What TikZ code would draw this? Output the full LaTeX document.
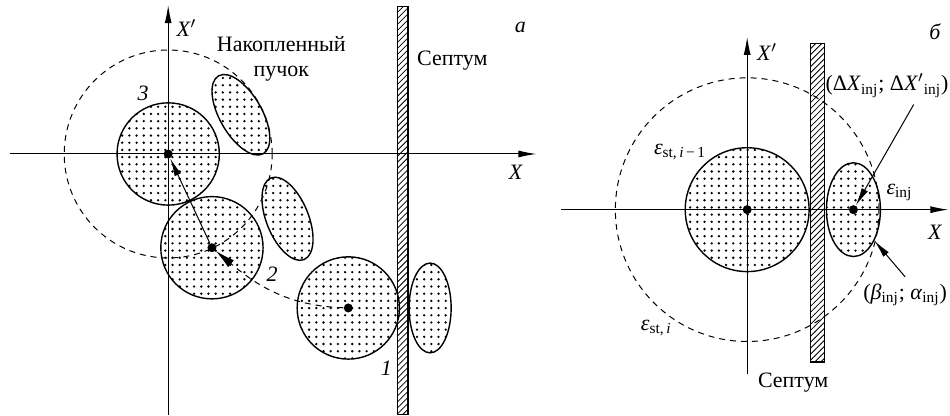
\documentclass[tikz,border=0pt]{standalone}
\usepackage{fontspec}
\setmainfont{Liberation Serif}
\usetikzlibrary{patterns,shapes.geometric,arrows.meta}
\pgfdeclarepatternformonly{sparsedots}{\pgfqpoint{-1pt}{-1pt}}{\pgfqpoint{1pt}{1pt}}{\pgfqpoint{3.6pt}{3.6pt}}{%
  \pgfpathcircle{\pgfqpoint{0pt}{0pt}}{0.65pt}\pgfusepath{fill}}

\begin{document}
\begin{tikzpicture}[font=\fontsize{11}{12.5}\selectfont, >={Latex[length=9pt,width=3.5pt]},
  axis/.style={line width=0.5pt, ->},
  beam/.style={draw, line width=0.7pt, pattern=sparsedots, inner sep=0pt},
  orbit/.style={line width=0.5pt, dash pattern=on 3pt off 2.5pt},
  septum/.style={draw, line width=0.6pt, pattern=north east lines},
  dot/.style={circle, fill, inner sep=0pt, minimum size=4.5pt}]
\useasboundingbox (0,0) rectangle (16.72,7.32);

% a
\begin{scope}[shift={(2.96,4.61)}]
\draw[orbit] (0,0) circle (1.83);
\draw[axis] (-2.78,0) -- (6.48,0);
\draw[axis] (0,-4.59) -- (0,2.62);
\node[beam, circle, minimum size=1.8cm] (b3) at (0,0)         {};
\node[beam, circle, minimum size=1.8cm] (b2) at (0.77,-1.65)  {};
\node[beam, circle, minimum size=1.8cm] (b1) at (3.17,-2.71)  {};
\node[beam, ellipse, minimum width=1.58cm, minimum height=0.74cm, rotate=-60] (eA) at (1.28,0.69)   {};
\node[beam, ellipse, minimum width=1.55cm, minimum height=0.74cm, rotate=-68] (eB) at (2.10,-1.14)  {};
\node[beam, ellipse, minimum width=0.74cm, minimum height=1.58cm]             (eC) at (4.61,-2.71)  {};
\draw[septum] (4.03,-4.59) rectangle (4.22,2.59);
\node[dot] (d3) at (b3.center) {};
\node[dot] (d2) at (b2.center) {};
\node[dot] (d1) at (b1.center) {};
\draw[orbit, -{Latex[length=10pt,width=4.5pt]}] (d1) to[out=178, in=-40] (d2);
\draw[->, line width=0.5pt] (d2) -- (d3);
\node (xpa)  at (0.32,2.22)  {\textit{X}$'$};
\node (xa)   at (6.12,-0.33) {\textit{X}};
\node (capa) at (6.20,2.22)  {\textit{а}};
\node[align=center] (stored) at (1.99,1.67) {Накопленный\\пучок};
\node (septa) at (5.00,1.65) {Септум};
\node (n3) at (-0.44,1.07) {\textit{3}};
\node (n2) at (1.83,-2.11) {\textit{2}};
\node (n1) at (3.84,-3.77) {\textit{1}};
\end{scope}

% b
\begin{scope}[shift={(13.15,3.63)}]
\draw[orbit] (0,0) circle (2.32);
\draw[axis] (-3.27,0) -- (3.54,0);
\draw[axis] (0,-2.90) -- (0,3.04);
\node[beam, circle, minimum size=2.18cm] (st) at (0,0) {};
\draw[septum] (1.11,-2.68) rectangle (1.36,2.92);
\node[beam, ellipse, minimum width=0.95cm, minimum height=1.65cm] (inj) at (1.87,0) {};
\node[dot] (dst)  at (st.center)  {};
\node[dot] (dinj) at (inj.center) {};
\node (xpb)  at (0.35,2.78)  {\textit{X}$'$};
\node (xb)   at (3.31,-0.40) {\textit{X}};
\node (capb) at (3.31,3.13)  {\textit{б}};
\node (delta) at (2.46,2.18) {(Δ\textit{X}\textsubscript{inj}; Δ\textit{X}$'$\textsubscript{inj})};
\node (epsinj) at (2.68,0.30) {\textit{ε}\textsubscript{inj}};
\node (twiss) at (2.78,-1.50) {(\textit{β}\textsubscript{inj}; \textit{α}\textsubscript{inj})};
\node (epsold) at (-1.18,1.02) {\textit{ε}\textsubscript{st,\,\textit{i}\,−\,1}};
\node (epsnew) at (-1.60,-2.08) {\textit{ε}\textsubscript{st,\,\textit{i}}};
\node (septb) at (0.81,-3.04) {Септум};
\draw[->, line width=0.5pt] (delta.-35) -- (dinj);
\draw[->, line width=0.5pt] (twiss.north) -- (inj.-56);
\end{scope}
\end{tikzpicture}
\end{document}
